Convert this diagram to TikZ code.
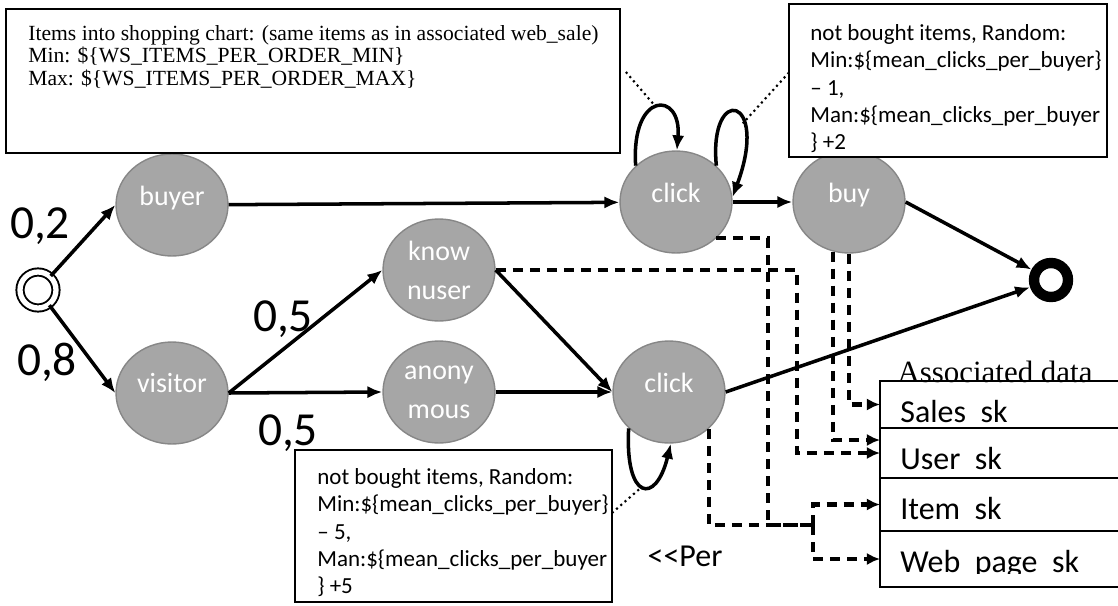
\documentclass[tikz,border=0pt]{standalone}
\usepackage{fontspec}
\setmainfont{Carlito}
\newfontfamily\serifnote{Liberation Serif}
\usepackage{tikz}
\usetikzlibrary{shapes.geometric}
\usetikzlibrary{arrows.meta}
\definecolor{stategray}{HTML}{A6A6A6}
\definecolor{stateedge}{HTML}{878787}

\begin{document}
\begin{tikzpicture}[x=0.02cm,y=-0.02cm,
    state/.style={ellipse,draw=stateedge,line width=0.8pt,fill=stategray,text=white,
      minimum width=2.24cm,minimum height=2.04cm,inner sep=0pt,align=center,
      font=\fontsize{15.9}{22.2}\selectfont},
    single/.style={state,text depth=11pt},
    flow/.style={-{Latex[length=8.5pt,width=7pt]},line width=2pt},
    prob/.style={font=\fontsize{27}{32}\selectfont,inner sep=0pt},
    notebox/.style={draw,fill=white,line width=1.2pt,anchor=north west,inner sep=0pt,outer sep=0pt},
    notetext/.style={anchor=north west,align=left,inner sep=0pt,font=\fontsize{13.1}{15.6}\selectfont},
    note/.style={dotted,line width=1.2pt},
    dashline/.style={line width=2.3pt,dash pattern=on 5.7pt off 4pt},
    dashlink/.style={dashline,-{Latex[length=7.5pt,width=7pt]}},
    datarow/.style={draw,line width=1.4pt,anchor=north west,inner sep=0pt,outer sep=0pt,minimum width=5.2cm}]

    \useasboundingbox (0,0) rectangle (1118,605);

    \node[circle,draw,double,double distance=3pt,line width=1.1pt,minimum size=0.72cm] (start) at (38,290) {};
    \node[circle,draw,line width=5.9pt,minimum size=0.68cm] (end) at (1051,280) {};

    \node[single] (buyer) at (172,205) {buyer};
    \node[single] (visitor) at (172,393) {visitor};
    \node[state] (known) at (439,270) {know\\nuser};
    \node[state] (anon) at (439,392) {anony\\mous};
    \node[single] (clickA) at (676,202) {click};
    \node[single] (buy) at (849,202) {buy};
    \node[single] (clickB) at (669,392) {click};

    \draw[flow] (start) -- (buyer.west);
    \draw[flow] (start) -- (visitor.west);
    \draw[flow] (visitor.east) -- (known.west);
    \draw[flow] (visitor.east) -- (anon.west);
    \draw[flow] (known.east) -- (clickB.west);
    \draw[flow] (anon) -- (clickB);
    \draw[flow] (buyer) -- (clickA);
    \draw[flow] (clickA) -- (buy);
    \draw[flow] (buy.east) -- (end);
    \draw[flow] (clickB.east) -- (end);

    \node[prob] (p02) at (40,226) {0,2};
    \node[prob] (p08) at (47,362) {0,8};
    \node[prob] (p05a) at (283,319) {0,5};
    \node[prob] (p05b) at (288,433) {0,5};

    \draw[flow] (clickA.138) .. controls +(-5,-75) and +(5,-60) .. (clickA.89) coordinate[pos=0.5] (loopA);
    \draw[flow] (clickA.42) .. controls +(-8,-82) and +(38,-102) .. (clickA.5) coordinate[pos=0.65] (loopB);
    \draw[flow] (clickB.222) .. controls +(-4,72) and +(-15,62) .. (clickB.272) coordinate[pos=0.5] (loopC);

    \coordinate (hubA) at (768,525);
    \coordinate (hub) at (813,525);
    \coordinate (userbend) at (797,453);

    \node[font=\serifnote\fontsize{17.6}{20}\selectfont,anchor=base,inner sep=0pt] (assoc) at (995,382) {Associated data};
    \foreach \rowname/\ytop/\ybot/\txt in {sales/381/428/Sales,user/428/478/User,item/478/531/Item,web/531/587/{Web\ \ page}} {
      \node[datarow,minimum height=(\ybot-\ytop)*0.02cm] (\rowname) at (880,\ytop) {};
      \begin{scope}
        \clip (880,\ytop) rectangle (1118,\ytop+42);
        \node[anchor=base west,inner sep=0pt,font=\fontsize{18.2}{22}\selectfont] (\rowname text) at (900,\ytop+41) {\txt\ \ sk};
      \end{scope}
    }

    \draw[dashlink] (buy.south) |- (sales.west);
    \draw[dashlink] (buy.252) |- ([shift={(0,-13)}]user.west);
    \draw[dashlink] (known.east) -| (userbend) -- (user.west);
    \draw[dashline] (clickA.318) -| (hubA) -- (hub);
    \draw[dashline] (clickB.317) |- (hub);
    \draw[dashlink] (hub) |- (item.west);
    \draw[dashlink] (hub) |- (web.west);

    \node[font=\fontsize{18.2}{22}\selectfont,inner sep=0pt] (per) at (685,556) {<{}<Per};

    \node[notebox,minimum width=12.28cm,minimum height=2.88cm] (noteA) at (6,9) {};
    \node[notetext,font=\serifnote\fontsize{12.3}{12.8}\selectfont] (noteAtext) at ([shift={(22,16)}]noteA.north west)
      {Items into shopping chart: (same items as in associated web\_sale)\\Min: \$\{WS\_ITEMS\_PER\_ORDER\_MIN\}\\Max: \$\{WS\_ITEMS\_PER\_ORDER\_MAX\}};
    \node[notebox,minimum width=6.36cm,minimum height=3.06cm] (noteB) at (789,4) {};
    \node[notetext] (noteBtext) at ([shift={(21,20)}]noteB.north west)
      {not bought items, Random:\\Min:\$\{mean\_clicks\_per\_buyer\}\\– 1,\\Man:\$\{mean\_clicks\_per\_buyer\\\} +2};
    \node[notebox,minimum width=6.34cm,minimum height=3.04cm] (noteC) at (295,450) {};
    \node[notetext] (noteCtext) at ([shift={(22,18)}]noteC.north west)
      {not bought items, Random:\\Min:\$\{mean\_clicks\_per\_buyer\}\\– 5,\\Man:\$\{mean\_clicks\_per\_buyer\\\} +5};

    \draw[note] ([shift={(6,-9)}]noteA.east) -- (loopA);
    \draw[note] ([shift={(0,-8)}]noteB.west) -- (loopB);
    \draw[note] ([shift={(0,-13)}]noteC.east) -- (loopC);
\end{tikzpicture}
\end{document}
